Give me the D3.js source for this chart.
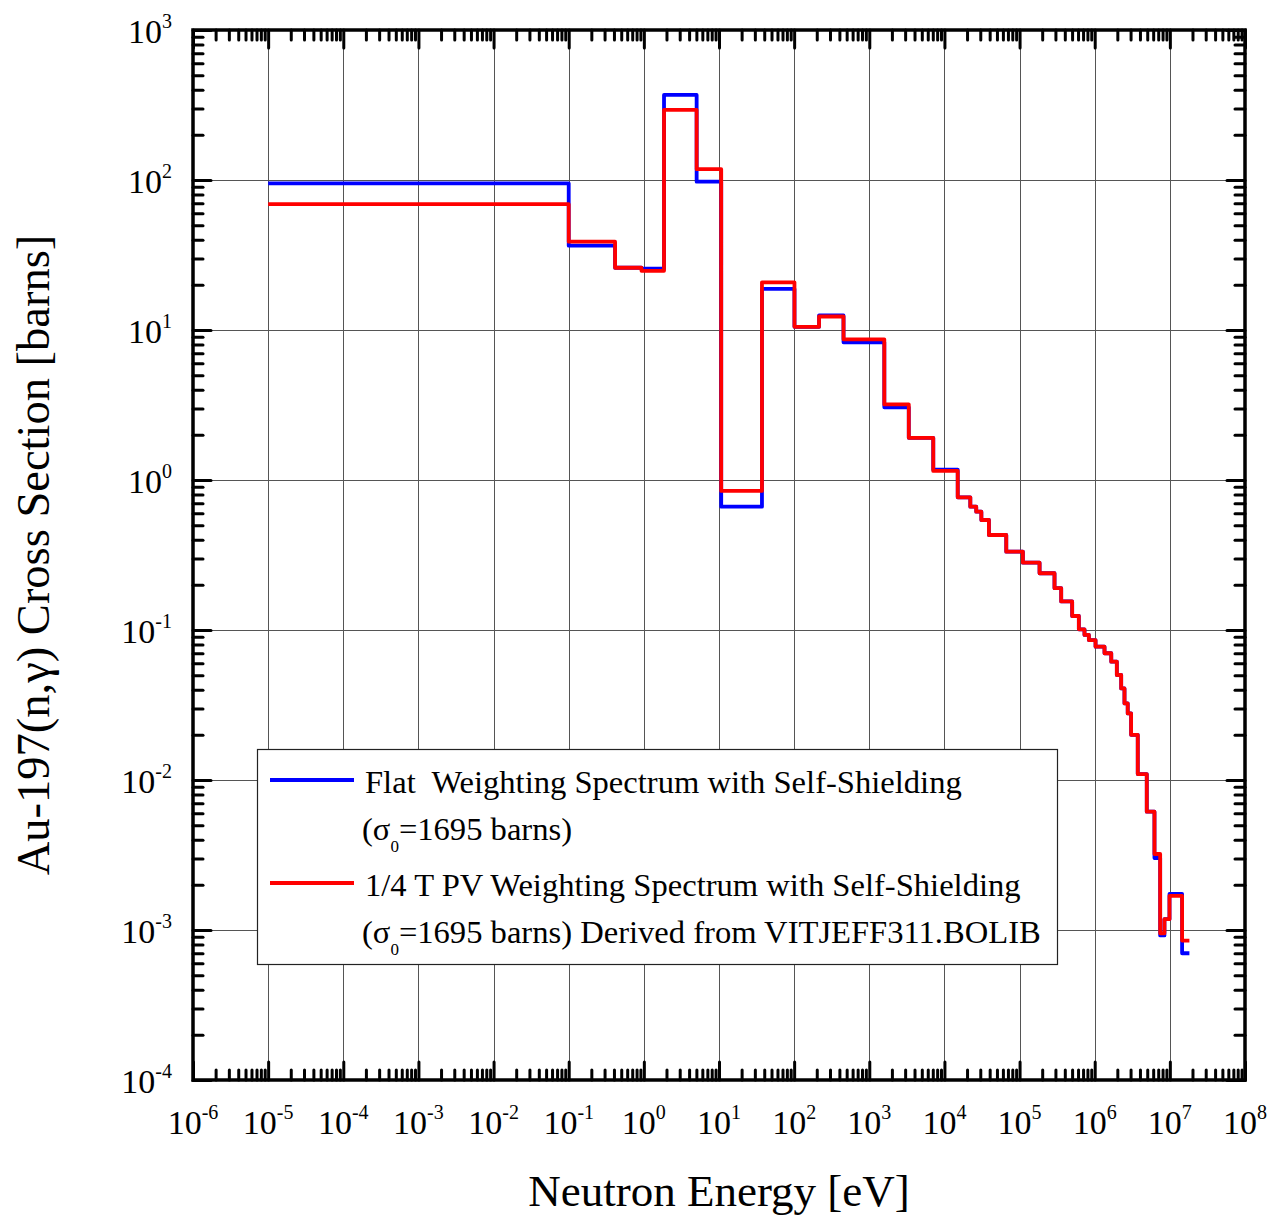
<!DOCTYPE html>
<html>
<head>
<meta charset="utf-8">
<script src="https://cdn.jsdelivr.net/npm/d3@7"></script>
<style>
  body { margin: 0; background: #fff; }
  svg { display: block; font-family: "Liberation Serif", "DejaVu Serif", serif; }
  .tick line { stroke: #000; stroke-width: 3; stroke-linecap: round; }
</style>
</head>
<body>
<svg id="chart" width="1282" height="1220"></svg>
<script>
// Group boundaries [eV] (lower edges, last value is the upper edge of the last group)
var energies = [1e-5, 0.1, 0.414, 0.93, 1.855, 5.04, 10.7, 37.3, 101, 214.5, 454, 1585, 3355, 7102,
  15030, 22100, 26500, 31000, 39100, 66500, 110700, 184500, 291700, 358000,
  501000, 615000, 731000, 836000, 1.026e6, 1.35e6, 1.66e6, 1.97e6, 2.25e6, 2.49e6,
  2.75e6, 3.05e6, 3.74e6, 4.93e6, 6.24e6, 7.43e6, 8.47e6, 9.89e6, 1.455e7, 1.82e7];

// Flat weighting spectrum, self-shielded (barns), one per group
var flatXs = [95, 36.5, 26, 25.6, 369, 97.5, 0.664, 18.8, 10.5, 12.5, 8.28, 3.05, 1.91, 1.17,
  0.767, 0.664, 0.615, 0.541, 0.430, 0.333, 0.281, 0.239, 0.190, 0.155,
  0.124, 0.101, 0.0927, 0.0857, 0.0774, 0.070, 0.0615, 0.0501, 0.0408, 0.0324,
  0.0278, 0.0200, 0.01096, 0.00615, 0.00302, 0.00092, 0.00118, 0.00174, 0.00070];

// 1/4 T PV weighting spectrum, self-shielded (barns)
var pvXs = [69, 38.8, 26, 24.8, 293, 118, 0.845, 20.8, 10.5, 12.3, 8.67, 3.19, 1.91, 1.15,
  0.767, 0.664, 0.615, 0.541, 0.430, 0.333, 0.281, 0.239, 0.190, 0.155,
  0.124, 0.101, 0.0927, 0.0857, 0.0774, 0.070, 0.0615, 0.0501, 0.0408, 0.0324,
  0.0278, 0.0200, 0.01096, 0.00615, 0.00321, 0.00095, 0.00118, 0.00169, 0.00085];

var xDecades = d3.range(-6, 9);   // 1e-6 .. 1e8
var yDecades = d3.range(-4, 4);   // 1e-4 .. 1e3

var svg = d3.select("#chart");
var pl = 193, pr = 1245, pt = 30, pb = 1080;

var x = d3.scaleLog().domain([1e-6, 1e8]).range([pl, pr]);
var y = d3.scaleLog().domain([1e-4, 1e3]).range([pb, pt]);

function majors(decs) { return decs.map(function(d) { return Math.pow(10, d); }); }
function minors(decs) {
  var out = [];
  decs.slice(0, -1).forEach(function(d) {
    for (var m = 2; m <= 9; m++) out.push(m * Math.pow(10, d));
  });
  return out;
}

// grid
var grid = svg.append("g").attr("class", "grid");
grid.selectAll("line.gx")
  .data(majors(xDecades).slice(1, -1))
  .enter().append("line")
    .attr("x1", function(d) { return Math.round(x(d)) + 0.5; })
    .attr("x2", function(d) { return Math.round(x(d)) + 0.5; })
    .attr("y1", pt).attr("y2", pb)
    .attr("stroke", "#555").attr("stroke-width", 1);
grid.selectAll("line.gy")
  .data(majors(yDecades).slice(1, -1))
  .enter().append("line")
    .attr("y1", function(d) { return Math.round(y(d)) + 0.5; })
    .attr("y2", function(d) { return Math.round(y(d)) + 0.5; })
    .attr("x1", pl).attr("x2", pr)
    .attr("stroke", "#555").attr("stroke-width", 1);

// ticks on all four sides, pointing inward
function addAxis(axis, tx, ty, vals, len) {
  var g = svg.append("g")
    .attr("transform", "translate(" + tx + "," + ty + ")")
    .call(axis.tickValues(vals).tickSize(-len).tickFormat(""));
  g.select(".domain").remove();
}
addAxis(d3.axisBottom(x), 0, pb, minors(xDecades), 10);
addAxis(d3.axisBottom(x), 0, pb, majors(xDecades), 18);
addAxis(d3.axisTop(x), 0, pt, minors(xDecades), 10);
addAxis(d3.axisTop(x), 0, pt, majors(xDecades), 18);
addAxis(d3.axisLeft(y), pl, 0, minors(yDecades), 10);
addAxis(d3.axisLeft(y), pl, 0, majors(yDecades), 18);
addAxis(d3.axisRight(y), pr, 0, minors(yDecades), 10);
addAxis(d3.axisRight(y), pr, 0, majors(yDecades), 18);

// frame
svg.append("rect")
  .attr("x", pl).attr("y", pt)
  .attr("width", pr - pl).attr("height", pb - pt)
  .attr("fill", "none").attr("stroke", "#000").attr("stroke-width", 3.5);

// tick labels with superscript exponents
svg.append("g").selectAll("text")
  .data(xDecades)
  .enter().append("text")
    .attr("x", function(d) { return x(Math.pow(10, d)); })
    .attr("y", 1134)
    .attr("text-anchor", "middle")
    .each(function(d) {
      var t = d3.select(this);
      t.append("tspan").attr("font-size", 34).text("10");
      t.append("tspan").attr("font-size", 20).attr("dy", -15).text(d);
    });

svg.append("g").selectAll("text")
  .data(yDecades)
  .enter().append("text")
    .attr("x", 172)
    .attr("y", function(d) { return y(Math.pow(10, d)) + 13; })
    .attr("text-anchor", "end")
    .each(function(d) {
      var t = d3.select(this);
      t.append("tspan").attr("font-size", 34).text("10");
      t.append("tspan").attr("font-size", 20).attr("dy", -15).text(d);
    });

// axis titles
svg.append("text")
  .attr("x", (pl + pr) / 2).attr("y", 1206)
  .attr("text-anchor", "middle").attr("font-size", 45)
  .text("Neutron Energy [eV]");

svg.append("text")
  .attr("transform", "translate(49," + (pt + pb) / 2 + ") rotate(-90)")
  .attr("text-anchor", "middle").attr("font-size", 46.5)
  .text("Au-197(n,\u03b3) Cross Section [barns]");

// step curves
function stepPoints(vals) {
  var pts = vals.map(function(v, i) { return [energies[i], v]; });
  pts.push([energies[energies.length - 1], vals[vals.length - 1]]);
  return pts;
}
var line = d3.line()
  .x(function(d) { return x(d[0]); })
  .y(function(d) { return y(d[1]); })
  .curve(d3.curveStepAfter);

svg.append("path")
  .attr("d", line(stepPoints(flatXs)))
  .attr("fill", "none").attr("stroke", "#0000ff").attr("stroke-width", 3.8)
  .attr("stroke-linejoin", "round");
svg.append("path")
  .attr("d", line(stepPoints(pvXs)))
  .attr("fill", "none").attr("stroke", "#ff0000").attr("stroke-width", 3.8)
  .attr("stroke-linejoin", "round");

// legend
var lg = svg.append("g");
lg.append("rect")
  .attr("x", 257.5).attr("y", 749.5).attr("width", 800).attr("height", 215)
  .attr("fill", "#fff").attr("stroke", "#222").attr("stroke-width", 1.2);

var legendItems = [
  { color: "#0000ff", ly: 780, l1: "Flat  Weighting Spectrum with Self-Shielding", l2: "" },
  { color: "#ff0000", ly: 883, l1: "1/4 T PV Weighting Spectrum with Self-Shielding", l2: " Derived from VITJEFF311.BOLIB" }
];
legendItems.forEach(function(it) {
  lg.append("line")
    .attr("x1", 270).attr("x2", 354).attr("y1", it.ly).attr("y2", it.ly)
    .attr("stroke", it.color).attr("stroke-width", 3.8);
  lg.append("text")
    .attr("x", 365).attr("y", it.ly + 13)
    .attr("font-size", 32.6).style("white-space", "pre")
    .text(it.l1);
  var t = lg.append("text")
    .attr("x", 362).attr("y", it.ly + 60)
    .attr("font-size", 32.6).style("white-space", "pre");
  t.append("tspan").text("(\u03c3");
  t.append("tspan").attr("font-size", 17).attr("dy", 12).text("0");
  t.append("tspan").attr("dy", -12).text("=1695 barns)" + it.l2);
});
</script>
</body>
</html>
